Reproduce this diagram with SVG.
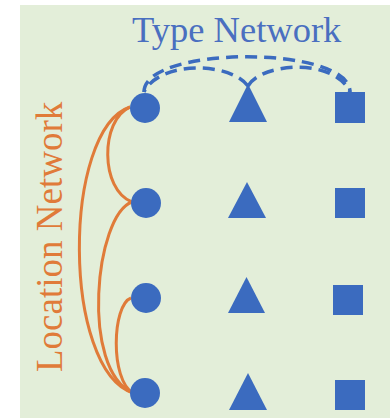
<svg xmlns="http://www.w3.org/2000/svg" width="390" height="418" viewBox="0 0 390 418">
<style>
.blue{fill:#3b6bbf}
.dash{fill:none;stroke:#3b6bbf;stroke-width:3.5;stroke-dasharray:12 7}
.loc{fill:none;stroke:#e07b39;stroke-width:3}
.title{font-family:"Liberation Serif",serif;font-size:36.5px;fill:#4a6fc0}
.side{font-family:"Liberation Serif",serif;font-size:37px;fill:#e07b39}
</style>
<rect x="0" y="0" width="390" height="418" fill="#ffffff"/>
<rect x="20" y="5" width="370" height="413" fill="#e3eed9"/>
<text class="title" x="132" y="42">Type Network</text>
<text class="side" transform="translate(62,372) rotate(-90)">Location Network</text>
<g id="connectors">
<path class="dash" d="M144,92 C144,45 350,45 350,92"/>
<path class="dash" d="M248,86 C230,62 160,60 144,92"/>
<path class="dash" d="M248,86 C262,62 335,58 350,92"/>
<path class="loc" d="M130,107 C100,120 100,190 132,202"/>
<path class="loc" d="M130,107 C62,130 62,370 133,393"/>
<path class="loc" d="M132,202 C95,215 80,370 133,393"/>
<path class="loc" d="M131,298 C112,305 110,380 133,393"/>
</g>
<g id="circle1"><circle class="blue" cx="145" cy="108" r="15"/></g>
<g id="circle2"><circle class="blue" cx="146" cy="203" r="15"/></g>
<g id="circle3"><circle class="blue" cx="146" cy="298" r="15"/></g>
<g id="circle4"><circle class="blue" cx="145" cy="393" r="15"/></g>
<g id="triangle1"><polygon class="blue" points="248,84 267,122 229,122"/></g>
<g id="triangle2"><polygon class="blue" points="247,182 266,218 228,218"/></g>
<g id="triangle3"><polygon class="blue" points="246.5,277 265,313 228,313"/></g>
<g id="triangle4"><polygon class="blue" points="248,373 267,410 229,410"/></g>
<g id="square1"><rect class="blue" x="335" y="92" width="30" height="31"/></g>
<g id="square2"><rect class="blue" x="335" y="188" width="30" height="30"/></g>
<g id="square3"><rect class="blue" x="333" y="285" width="30" height="30"/></g>
<g id="square4"><rect class="blue" x="335" y="380" width="30" height="30"/></g>
</svg>
